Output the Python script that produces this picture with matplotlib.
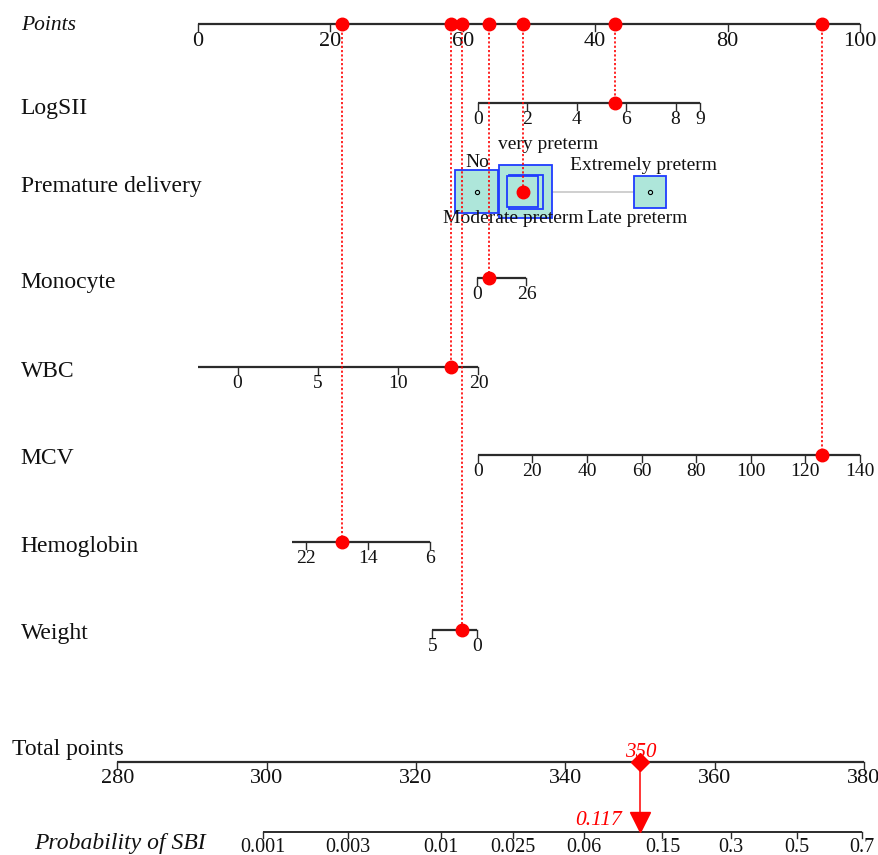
import numpy as np
import matplotlib
matplotlib.use("Agg")
import matplotlib.pyplot as plt
from matplotlib.patches import Rectangle

# ---------------- data ----------------
points_ticks = [0, 20, 40, 60, 80, 100]
points_ticklabels = ['0', '20', '60', '40', '80', '100']

# continuous predictors: ticks, range of the scale, points at range ends, observed value
logsii_ticks = [0, 2, 4, 6, 8, 9]
logsii_range = [0, 9]
logsii_pts = [42.31, 75.86]
logsii_obs = 5.54

monocyte_ticks = [0, 26]
monocyte_range = [0, 26]
monocyte_pts = [42.16, 49.62]
monocyte_obs = 6.4

wbc_ticks = [0, 5, 10, 15]
wbc_ticklabels = ['0', '5', '10', '20']
wbc_range = [-2.46, 15]
wbc_pts = [0.0, 42.37]
wbc_obs = 13.3

mcv_ticks = [0, 20, 40, 60, 80, 100, 120, 140]
mcv_range = [0, 140]
mcv_pts = [42.27, 99.97]
mcv_obs = 126.0

hgb_ticks = [22, 14, 6]
hgb_range = [23.85, 6]
hgb_pts = [14.15, 35.05]
hgb_obs = 17.4

weight_ticks = [5, 0]
weight_range = [5, 0]
weight_pts = [35.39, 42.09]
weight_obs = 1.62

premature_cats = ['No', 'Moderate preterm', 'very preterm', 'Late preterm', 'Extremely preterm']
premature_pts = [42.1, 49.02, 49.47, 49.55, 68.28]
premature_obs = 'Moderate preterm'

total_ticks = [280, 300, 320, 340, 360, 380]
prob_ticks = [0.001, 0.003, 0.01, 0.025, 0.06, 0.15, 0.3, 0.5, 0.7]
prob_ticklabels = ['0.001', '0.003', '0.01', '0.025', '0.06', '0.15', '0.3', '0.5', '0.7']
logit_intercept = -35.835
logit_slope = 0.0966

# ---------------- layout / style ----------------
W, H = 879, 855
X0_PX, PX_PER_PT = 198.0, 6.62          # Points axis: 0 at 198 px, 6.62 px per point
TOT_PX = (117.3, 864.0)                 # Total points axis 280..380 in px
SERIF = ['Liberation Serif', 'DejaVu Serif']
AXC = '#2b2b2b'
RED = '#ff0000'
ROW_Y = {'Points': 24, 'LogSII': 103, 'Premature delivery': 191.7, 'Monocyte': 278.3,
         'WBC': 367, 'MCV': 455, 'Hemoglobin': 542.3, 'Weight': 630,
         'Total points': 761.7, 'Probability of SBI': 832}
LABEL_BASE = {'Points': 30, 'LogSII': 114.3, 'Premature delivery': 192.3, 'Monocyte': 288,
              'WBC': 377, 'MCV': 464, 'Hemoglobin': 552, 'Weight': 639,
              'Total points': 755, 'Probability of SBI': 849}
LABEL_XPX = {'Total points': 12.4, 'Probability of SBI': 34}
BOX_PX = {'No': 43, 'very preterm': 53, 'Late preterm': 34, 'Moderate preterm': 31,
          'Extremely preterm': 32}
CAT_LABEL_PX = {'No': (477, 166.7), 'very preterm': (548, 149), 'Extremely preterm': (644, 170),
                'Moderate preterm': (513, 223.3), 'Late preterm': (637, 223.3)}


def px2x(px):
    return (px - X0_PX) / PX_PER_PT


def lin(v, rng, pts):
    return pts[0] + (v - rng[0]) * (pts[1] - pts[0]) / (rng[1] - rng[0])


def tot_x(t):
    return px2x(TOT_PX[0] + (t - total_ticks[0]) * (TOT_PX[1] - TOT_PX[0]) /
                (total_ticks[-1] - total_ticks[0]))


fig = plt.figure(figsize=(W / 100, H / 100), dpi=100)
ax = fig.add_axes([0, 0, 1, 1])
ax.set_xlim(px2x(0), px2x(W))
ax.set_ylim(H, 0)
ax.axis('off')


def draw_axis(y, x_lo, x_hi, tick_xs, labels, fs, tick_len=7, pad=8, lw=1.6):
    ax.plot([x_lo, x_hi], [y, y], color=AXC, lw=lw, solid_capstyle='butt', zorder=2)
    for tx, lab in zip(tick_xs, labels):
        ax.plot([tx, tx], [y, y + tick_len], color=AXC, lw=1.0, zorder=2)
        ax.text(tx, y + pad, lab, ha='center', va='top', fontsize=fs, family=SERIF,
                color='#111111', zorder=3)


def row_label(name, italic=False, size=17):
    ax.text(px2x(LABEL_XPX.get(name, 20.7)), LABEL_BASE[name], name, ha='left',
            va='baseline', fontsize=size, family=SERIF, style='italic' if italic else 'normal',
            color='#111111')


# Points axis
row_label('Points', italic=True, size=15.5)
draw_axis(ROW_Y['Points'], 0, 100, points_ticks, points_ticklabels, 16)

obs_points = {}

continuous = [
    ('LogSII', logsii_ticks, [str(t) for t in logsii_ticks], logsii_range, logsii_pts, logsii_obs),
    ('Monocyte', monocyte_ticks, [str(t) for t in monocyte_ticks], monocyte_range, monocyte_pts, monocyte_obs),
    ('WBC', wbc_ticks, wbc_ticklabels, wbc_range, wbc_pts, wbc_obs),
    ('MCV', mcv_ticks, [str(t) for t in mcv_ticks], mcv_range, mcv_pts, mcv_obs),
    ('Hemoglobin', hgb_ticks, [str(t) for t in hgb_ticks], hgb_range, hgb_pts, hgb_obs),
    ('Weight', weight_ticks, [str(t) for t in weight_ticks], weight_range, weight_pts, weight_obs),
]

for name, ticks, labs, rng, pts, obs in continuous:
    y = ROW_Y[name]
    row_label(name)
    draw_axis(y, lin(rng[0], rng, pts), lin(rng[1], rng, pts),
              [lin(t, rng, pts) for t in ticks], labs, 14)
    op = lin(obs, rng, pts)
    obs_points[name] = op
    ax.plot([op], [y], 'o', color=RED, ms=9, mec=RED, zorder=6)

# Premature delivery (categorical boxes)
yb = ROW_Y['Premature delivery']
row_label('Premature delivery')
ax.plot([min(premature_pts), max(premature_pts)], [yb, yb], color='#cccccc', lw=1.3, zorder=1)
order = sorted(range(len(premature_cats)), key=lambda i: -BOX_PX[premature_cats[i]])
for i in order:
    c = premature_cats[i]
    s = BOX_PX[c]
    ax.add_patch(Rectangle((premature_pts[i] - s / 2 / PX_PER_PT, yb - s / 2), s / PX_PER_PT, s,
                           facecolor='#aee6da', edgecolor='#1f3cff', lw=1.3, zorder=2))
for i, c in enumerate(premature_cats):
    ax.plot([premature_pts[i]], [yb], 'o', ms=3, mfc='none', mec='black', mew=0.8, zorder=3)
    lx, ly = CAT_LABEL_PX[c]
    ax.text(px2x(lx), ly, c, ha='center', va='baseline', fontsize=14, family=SERIF,
            color='#111111', zorder=4)
op = premature_pts[premature_cats.index(premature_obs)]
obs_points['Premature delivery'] = op
ax.plot([op], [yb], 'o', color=RED, ms=9, mec=RED, zorder=6)

# dotted guide lines and dots on the Points axis
for name, op in obs_points.items():
    ax.plot([op, op], [ROW_Y['Points'], ROW_Y[name]], color=RED, lw=1.2,
            dashes=(1.3, 1.3), zorder=4)
    ax.plot([op], [ROW_Y['Points']], 'o', color=RED, ms=9, mec=RED, zorder=6)

# Total points
total = sum(obs_points.values())
row_label('Total points')
draw_axis(ROW_Y['Total points'], tot_x(total_ticks[0]), tot_x(total_ticks[-1]),
          [tot_x(t) for t in total_ticks], [str(t) for t in total_ticks], 16, pad=7)

# Probability axis
row_label('Probability of SBI', italic=True, size=17)


def prob_to_total(p):
    return (np.log(p / (1 - p)) - logit_intercept) / logit_slope


draw_axis(ROW_Y['Probability of SBI'], tot_x(prob_to_total(prob_ticks[0])),
          tot_x(prob_to_total(prob_ticks[-1])),
          [tot_x(prob_to_total(p)) for p in prob_ticks], prob_ticklabels, 14.5, tick_len=6,
          pad=5.5, lw=1.4)

prob = 1 / (1 + np.exp(-(logit_intercept + logit_slope * total)))
tx = tot_x(total)
ax.plot([tx, tx], [ROW_Y['Total points'], 814], color=RED, lw=1.1, zorder=5)
ax.plot([tx], [ROW_Y['Total points']], 'D', color=RED, ms=9, mec=RED, zorder=6)
ax.plot([tx], [822], 'v', color=RED, ms=14, mec=RED, zorder=6)
ax.text(tx, 757.3, f'{total:.0f}', ha='center', va='baseline', fontsize=15, family=SERIF,
        style='italic', color=RED, zorder=7)
ax.text(tx - 18.5 / PX_PER_PT, 825, f'{prob:.3f}', ha='right', va='baseline', fontsize=15.5,
        family=SERIF, style='italic', color=RED, zorder=7)

fig.savefig('out.png', dpi=100)
